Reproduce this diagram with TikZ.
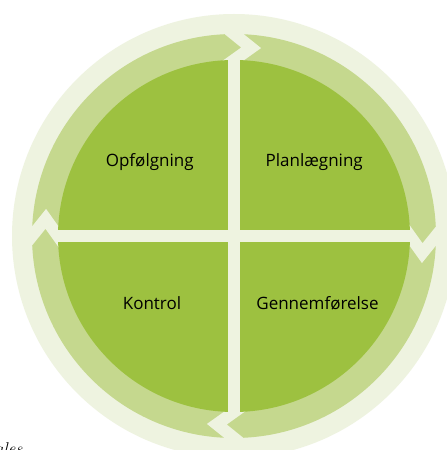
\documentclass[tikz,border=0pt]{standalone}
\usepackage{fontspec}
\setsansfont{Open Sans}
\usetikzlibrary{calc}
\definecolor{palegreen}{HTML}{EEF3E0}
\definecolor{ringgreen}{HTML}{C5D88E}
\definecolor{diskgreen}{HTML}{9DC140}
\begin{document}
\begin{tikzpicture}[x=1pt,y=1pt,
  gapline/.style={draw=palegreen,line width=12pt},
  qlabel/.style={font=\sffamily\fontsize{17}{20}\selectfont,anchor=base,inner sep=0pt,text=black}]
\useasboundingbox (0,0) rectangle (447,450);
\fill[white] (0,0) rectangle (447,450);
\begin{scope}
\clip (0,0) rectangle (447,450);
\coordinate (c) at (234,214);
\fill[palegreen] (c) circle[radius=222];
\fill[ringgreen] (c) circle[radius=202];
\foreach \t/\n in {90/top,0/right,270/bottom,180/left}{
  \pgfmathsetmacro{\tt}{\t-5.2}
  \coordinate (in-\n) at ($(c)+(\t:176)$);
  \coordinate (out-\n) at ($(c)+(\t:202)$);
  \coordinate (tip-\n) at ($(c)+(\tt:189)$);
  \draw[gapline,line join=miter] ($(in-\n)!-1!(tip-\n)$) -- (tip-\n) -- ($(out-\n)!-1!(tip-\n)$);
}
\fill[diskgreen] (c) circle[radius=176];
\draw[gapline,shorten <=-2pt,shorten >=-2pt] (in-top) -- (in-bottom);
\draw[gapline,shorten <=-2pt,shorten >=-2pt] (in-left) -- (in-right);
\node[qlabel] (opf) at (149.7,283.5) {Opfølgning};
\node[qlabel] (plan) at (314.2,283.5) {Planlægning};
\node[qlabel] (kon) at (152,140.7) {Kontrol};
\node[qlabel] (gen) at (317.5,140.7) {Gennemførelse};
\node[anchor=base west,inner sep=0pt,font=\fontsize{17}{20}\selectfont\itshape] (frag) at (-5,-5) {ales};
\end{scope}
\end{tikzpicture}
\end{document}
